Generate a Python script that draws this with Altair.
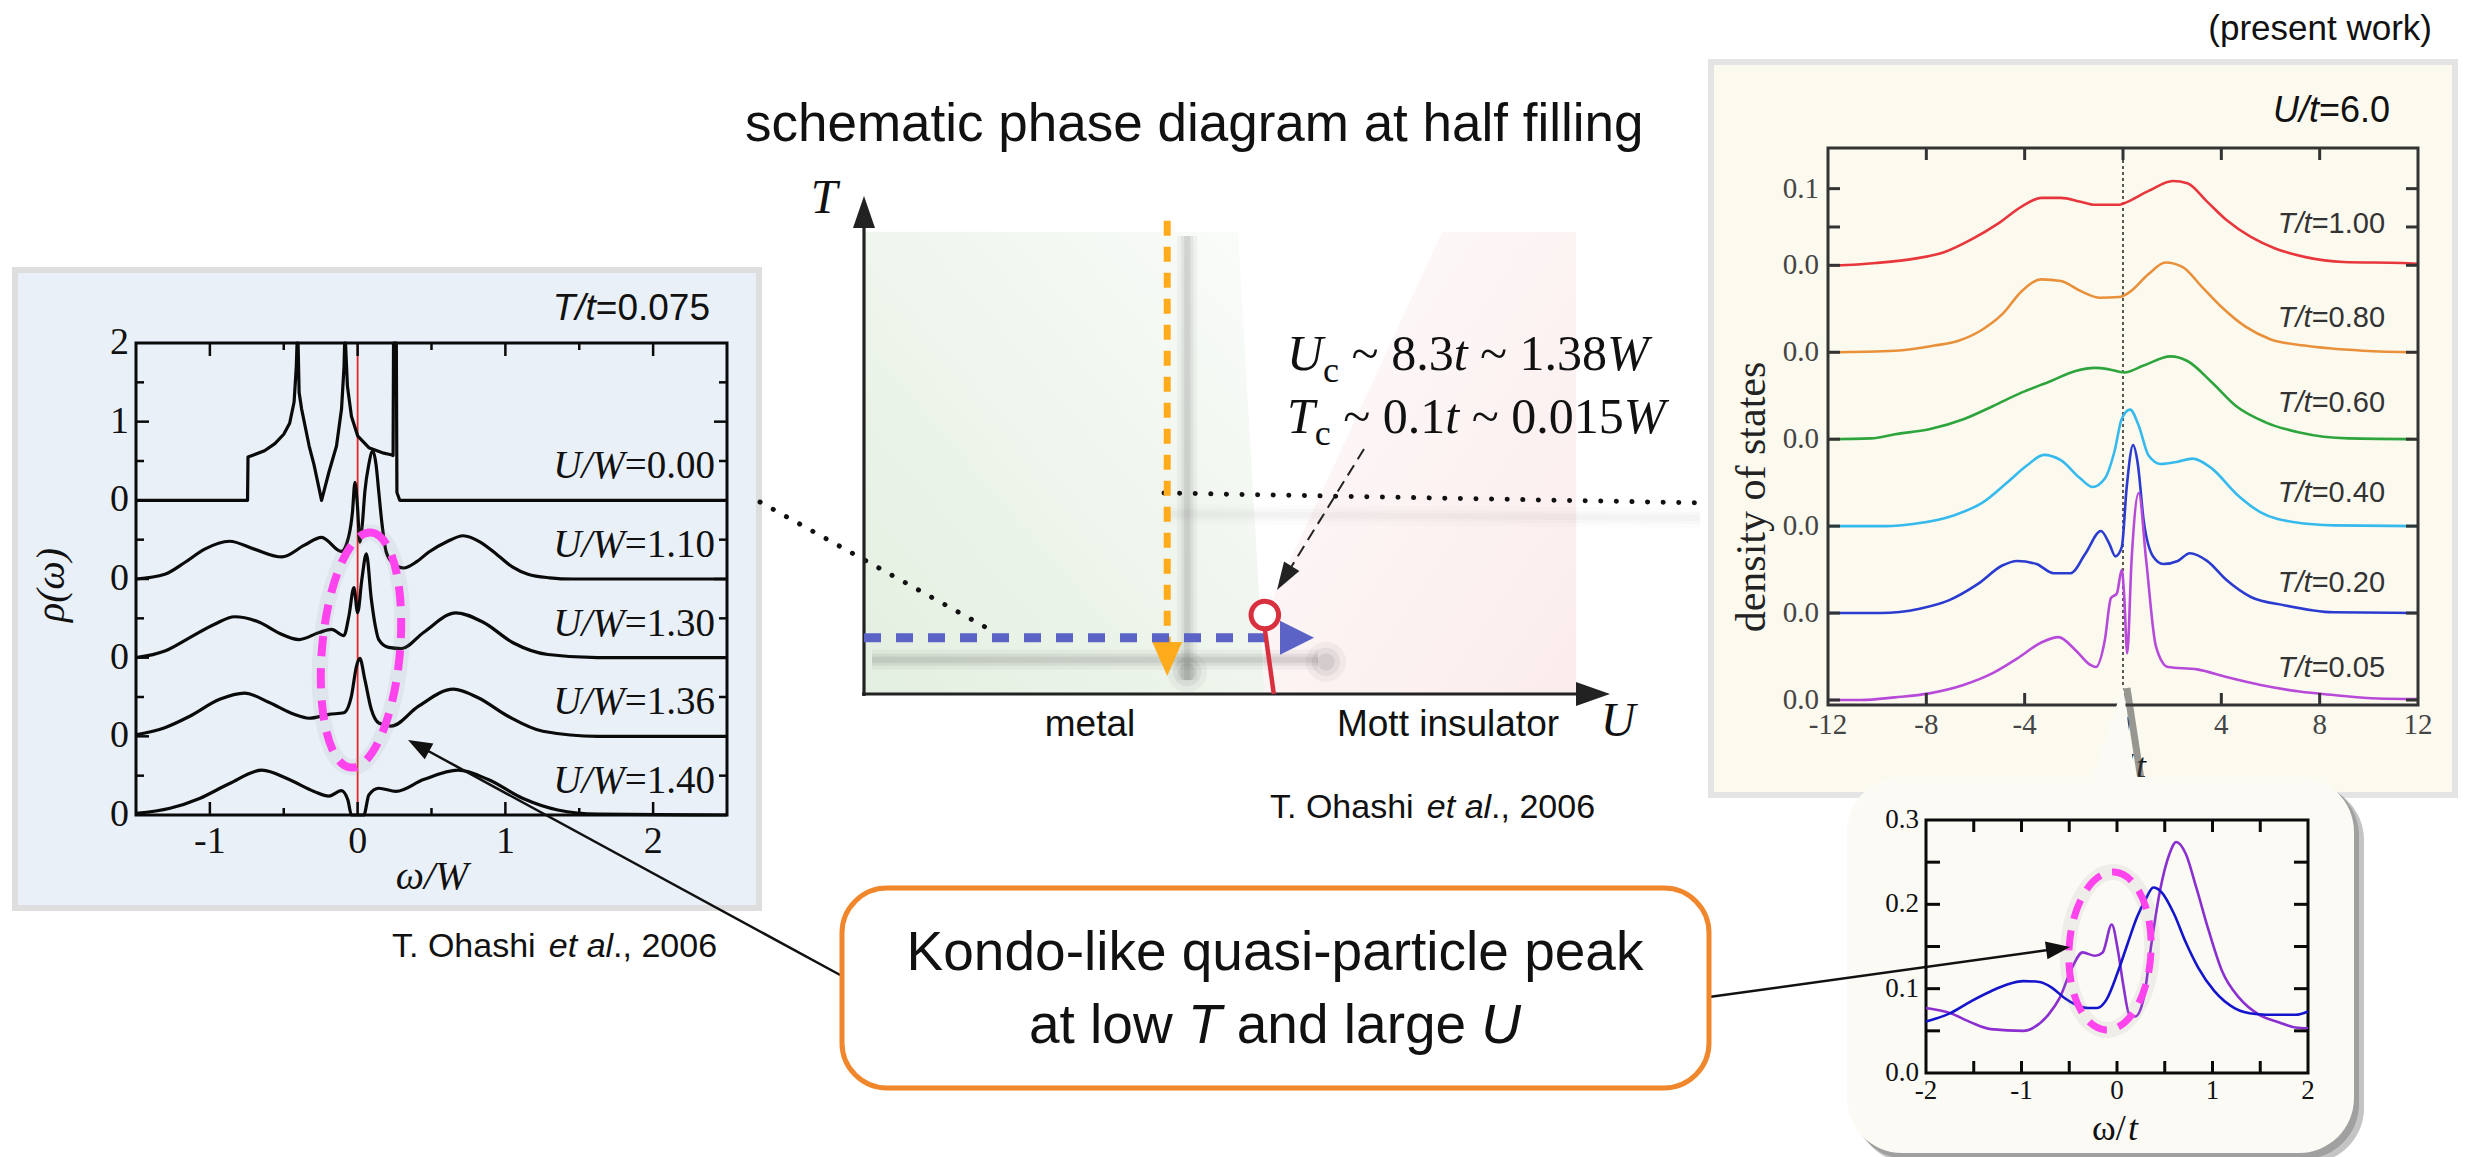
import math
import altair as alt
import pandas as pd

W, H = 2465, 1157
SERIF = "Liberation Serif"
SANS = "Liberation Sans"

# ===================== DATA =====================
# Left panel: rho(omega) vs omega/W at T/t = 0.075 (T. Ohashi et al., 2006)
left_names = ["0.00", "1.10", "1.30", "1.36", "1.40"]
u000_omega = [-1.5, -0.745, -0.742, -0.70, -0.63, -0.56, -0.50, -0.46, -0.43, -0.415,
              -0.41, -0.403, -0.396, -0.379, -0.328, -0.295, -0.244, -0.194, -0.143, -0.109,
              -0.092, -0.088, -0.082, -0.069, -0.042, 0.0, 0.076, 0.177, 0.227, 0.240,
              0.243, 0.262, 0.266, 0.285, 2.5]
u000_rho = [0.0, 0.0, 0.55, 0.58, 0.63, 0.72, 0.84, 0.98, 1.25, 1.70,
            2.0, 2.0, 1.37, 1.16, 0.69, 0.45, 0.0, 0.36, 0.69, 1.16,
            1.7, 2.0, 2.0, 1.45, 1.07, 0.82, 0.67, 0.60, 0.58, 0.57,
            2.0, 2.0, 0.10, 0.0, 0.0]
u110_omega = [-1.5, -1.305, -1.17, -1.035, -0.867, -0.70, -0.513, -0.36, -0.244, -0.11,
              -0.059, -0.035, -0.018, -0.002, 0.015, 0.032, 0.049, 0.075, 0.103, 0.125,
              0.143, 0.165, 0.194, 0.24, 0.311, 0.40, 0.48, 0.60, 0.715, 0.83,
              0.95, 1.05, 1.153, 1.30, 1.456, 2.5]
u110_rho = [0.0, 0.06, 0.21, 0.38, 0.48, 0.38, 0.28, 0.43, 0.53, 0.35,
            0.55, 0.85, 1.23, 0.95, 0.47, 0.70, 1.11, 1.45, 1.63, 1.45,
            1.11, 0.70, 0.34, 0.20, 0.14, 0.22, 0.34, 0.47, 0.55, 0.47,
            0.30, 0.15, 0.06, 0.015, 0.0, 0.0]
u130_omega = [-1.5, -1.305, -1.136, -0.968, -0.833, -0.665, -0.53, -0.396, -0.26, -0.177,
              -0.093, -0.059, -0.025, 0.0, 0.029, 0.059, 0.093, 0.12, 0.143, 0.21,
              0.295, 0.446, 0.665, 0.85, 1.052, 1.288, 1.625, 2.5]
u130_rho = [0.0, 0.085, 0.255, 0.425, 0.52, 0.45, 0.31, 0.23, 0.32, 0.36,
            0.28, 0.53, 0.89, 0.57, 1.0, 1.32, 0.74, 0.40, 0.23, 0.13,
            0.115, 0.32, 0.57, 0.45, 0.19, 0.04, 0.0, 0.0]
u136_omega = [-1.5, -1.305, -1.136, -0.934, -0.766, -0.598, -0.43, -0.33, -0.194, -0.093,
              -0.042, -0.008, 0.015, 0.049, 0.093, 0.143, 0.227, 0.41, 0.648, 0.816,
              1.018, 1.254, 1.625, 2.5]
u136_rho = [0.02, 0.11, 0.255, 0.47, 0.55, 0.43, 0.28, 0.23, 0.28, 0.30,
            0.51, 0.89, 0.99, 0.72, 0.34, 0.17, 0.13, 0.38, 0.60, 0.49,
            0.255, 0.064, 0.0, 0.0]
u140_omega = [-1.5, -1.27, -1.07, -0.867, -0.648, -0.463, -0.295, -0.194, -0.11, -0.066,
              -0.042, 0.0, 0.042, 0.076, 0.143, 0.26, 0.446, 0.682, 0.884, 1.12,
              1.355, 1.625, 2.5]
u140_rho = [0.02, 0.085, 0.21, 0.40, 0.57, 0.45, 0.30, 0.24, 0.31, 0.19,
            0.0, 0.0, 0.0, 0.255, 0.34, 0.30, 0.45, 0.57, 0.45, 0.21,
            0.064, 0.01, 0.0]
left_xtick_values = [-1, 0, 1, 2]
left_ytick_values = [0, 1, 2, 3, 4, 5, 6]
left_ytick_labels = ["0", "0", "0", "0", "0", "1", "2"]

# Right panel: density of states at U/t = 6.0 (present work)
right_names = ["1.00", "0.80", "0.60", "0.40", "0.20", "0.05"]
t100_omega = [-12, -11.45, -10.06, -8.47, -7.28, -6.09, -5.1, -4.11, -3.32, -2.53,
              -1.73, -1.14, -0.15, 0.05, 1.04, 2.03, 2.62, 3.42, 4.21, 5.2,
              6.19, 7.38, 8.97, 11.35, 12]
t100_dos = [0.0, 0.0, 0.003, 0.0087, 0.017, 0.035, 0.054, 0.077, 0.088, 0.088,
            0.083, 0.079, 0.079, 0.081, 0.097, 0.110, 0.107, 0.083, 0.059, 0.037,
            0.022, 0.011, 0.0043, 0.003, 0.002]
t080_omega = [-12, -9.27, -7.68, -6.69, -5.7, -4.9, -4.11, -3.32, -2.53, -1.73,
              -0.94, -0.15, 0.25, 1.04, 1.73, 2.43, 3.22, 4.01, 5.0, 5.99,
              7.38, 9.76, 12]
t080_dos = [0.0, 0.002, 0.0087, 0.015, 0.030, 0.050, 0.080, 0.095, 0.093, 0.080,
            0.071, 0.072, 0.078, 0.102, 0.117, 0.111, 0.085, 0.059, 0.033, 0.017,
            0.0087, 0.002, 0.0]
t060_omega = [-12, -10.25, -9.27, -7.88, -6.49, -5.3, -4.11, -2.92, -1.93, -1.14,
              -0.55, 0.05, 0.84, 1.93, 2.62, 3.62, 4.61, 5.8, 7.18, 9.17, 12]
t060_dos = [0.0, 0.001, 0.0065, 0.013, 0.026, 0.043, 0.061, 0.076, 0.089, 0.093,
            0.091, 0.087, 0.096, 0.108, 0.102, 0.074, 0.043, 0.022, 0.0087, 0.001, 0.0]
t040_omega = [-12, -9.66, -8.47, -6.89, -5.7, -4.71, -3.91, -3.22, -2.53, -1.73,
              -1.24, -0.74, -0.35, -0.05, 0.29, 0.64, 1.04, 1.54, 2.23, 2.82,
              3.62, 4.61, 5.6, 6.99, 8.57, 12]
t040_dos = [0.0, 0.0, 0.003, 0.014, 0.031, 0.057, 0.079, 0.093, 0.086, 0.062,
            0.051, 0.062, 0.097, 0.140, 0.152, 0.131, 0.092, 0.081, 0.084, 0.088,
            0.075, 0.042, 0.018, 0.005, 0.001, 0.0]
t020_omega = [-12, -9.86, -8.27, -7.09, -5.9, -4.91, -4.31, -3.52, -2.82, -2.13,
              -1.54, -0.9, -0.55, -0.31, -0.05, 0.15, 0.41, 0.6, 0.84, 1.24,
              1.63, 2.23, 2.72, 3.42, 4.21, 5.2, 6.59, 8.57, 12]
t020_dos = [0.0, 0.0, 0.0057, 0.0165, 0.038, 0.062, 0.068, 0.064, 0.052, 0.052,
            0.077, 0.107, 0.090, 0.074, 0.086, 0.164, 0.219, 0.195, 0.121, 0.073,
            0.064, 0.068, 0.078, 0.068, 0.043, 0.021, 0.010, 0.001, 0.0]
t005_omega = [-12, -10.65, -9.27, -7.88, -6.49, -5.3, -4.31, -3.32, -2.63, -1.93,
              -1.34, -1.1, -0.74, -0.49, -0.25, -0.05, 0.05, 0.17, 0.35, 0.64,
              0.94, 1.34, 1.83, 3.02, 4.21, 5.6, 7.18, 8.57, 10.35, 12]
t005_dos = [0.0, 0.0, 0.0035, 0.0087, 0.0196, 0.035, 0.054, 0.075, 0.082, 0.065,
            0.046, 0.043, 0.078, 0.133, 0.139, 0.170, 0.135, 0.061, 0.183, 0.270,
            0.183, 0.070, 0.043, 0.040, 0.030, 0.0196, 0.011, 0.0065, 0.002, 0.0013]
right_xtick_values = [-12, -8, -4, 0, 4, 8, 12]

# Inset: low-energy zoom, T/t = 0.05 (purple) and 0.20 (blue)
inset_p_omega = [-2.0, -1.745, -1.53, -1.32, -0.98, -0.87, -0.72, -0.6, -0.47, -0.36,
                 -0.23, -0.15, -0.055, 0.01, 0.065, 0.13, 0.19, 0.28, 0.36, 0.45,
                 0.55, 0.62, 0.72, 0.83, 0.96, 1.1, 1.28, 1.49, 1.70, 1.87, 2.0]
inset_p_dos = [0.077, 0.071, 0.060, 0.052, 0.050, 0.054, 0.069, 0.089, 0.125, 0.143,
               0.139, 0.143, 0.176, 0.145, 0.105, 0.069, 0.067, 0.089, 0.153, 0.216,
               0.260, 0.274, 0.260, 0.220, 0.169, 0.121, 0.089, 0.069, 0.060, 0.054, 0.053]
inset_b_omega = [-2.0, -1.745, -1.53, -1.32, -1.15, -0.98, -0.81, -0.68, -0.55, -0.43,
                 -0.3, -0.21, -0.11, 0.0, 0.11, 0.21, 0.3, 0.38, 0.47, 0.6,
                 0.72, 0.85, 1.02, 1.23, 1.45, 1.66, 1.87, 2.0]
inset_b_dos = [0.061, 0.071, 0.085, 0.097, 0.105, 0.109, 0.108, 0.101, 0.089, 0.081,
               0.077, 0.077, 0.087, 0.117, 0.153, 0.185, 0.206, 0.220, 0.214, 0.188,
               0.155, 0.125, 0.097, 0.077, 0.070, 0.069, 0.069, 0.073]
inset_xtick_values = [-2, -1, 0, 1, 2]
inset_ytick_values = [0.0, 0.1, 0.2, 0.3]

# Schematic phase diagram (arbitrary U, T units)
metal_u = [0.0, 0.502, 0.538]
metal_t = [0.93, 0.93, 0.0]
mott_u = [0.537, 0.538, 0.776, 0.956]
mott_t = [0.0, 0.159, 0.93, 0.93]
crit_u, crit_t = 0.538, 0.159
path_t_u = 0.407          # fixed-U path (orange)
path_u_t = 0.113          # fixed-T path (blue)

# ===================== LAYOUT / STYLE =====================
LEFT = dict(x=[-1.5, 2.5], px=[136, 727], y=[0, 6], py=[815, 343])
RIGHT = dict(x=[-12, 12], px=[1828, 2418], y=[-0.0065, 0.72], py=[705, 148])
INSET = dict(x=[-2, 2], px=[1926, 2308], y=[0, 0.3], py=[1073, 820])
MID = dict(x=[0, 1], px=[864, 1609], y=[0, 1], py=[694, 197])
left_offsets = [4, 3, 2, 1, 0]
right_offsets = [0.567, 0.4536, 0.3402, 0.2268, 0.1134, 0.0]
right_label_lift = [0.042, 0.033, 0.035, 0.031, 0.028, 0.030]
right_colors = ["#e8373c", "#e8903a", "#2ea43c", "#36b9ec", "#2b3bcf", "#b84ad9"]
inset_colors = {"p": "#8b2fd0", "b": "#1414cc"}

ONE = pd.DataFrame({"k": [0]})

_lc = "abcdefghijklmnopqrstuvwxyz"
_uc = "ABCDEFGHIJKLMNOPQRSTUVWXYZ"
SANS_W = dict(zip(_lc, [556, 556, 500, 556, 556, 278, 556, 556, 222, 222, 500, 222, 833,
                        556, 556, 556, 556, 333, 500, 278, 556, 500, 722, 500, 500, 500]))
SANS_W.update(zip(_uc, [667, 667, 722, 722, 667, 611, 778, 722, 278, 500, 667, 556, 833,
                        722, 778, 667, 778, 722, 667, 611, 722, 667, 944, 667, 667, 611]))
SANS_W.update({c: 556 for c in "0123456789"})
SANS_W.update({" ": 278, ".": 278, ",": 278, "-": 333, "/": 278, "=": 584, "~": 584,
               "(": 333, ")": 333})
SERIF_W = dict(zip(_lc, [444, 500, 444, 500, 444, 333, 500, 500, 278, 278, 500, 278, 778,
                         500, 500, 500, 500, 333, 389, 278, 500, 500, 722, 500, 500, 444]))
SERIF_W.update(zip(_uc, [722, 667, 667, 722, 611, 556, 722, 722, 333, 389, 722, 611, 889,
                         722, 722, 556, 722, 667, 556, 611, 722, 722, 944, 722, 722, 611]))
SERIF_W.update({c: 500 for c in "0123456789"})
SERIF_W.update({" ": 250, ".": 250, ",": 250, "-": 333, "/": 300, "=": 564, "~": 541,
                "(": 333, ")": 333, "\u03c9": 700, "\u03c1": 500})
SERIF_IW = dict(SERIF_W)
SERIF_IW.update({"T": 556, "U": 722, "W": 833, "t": 278, "/": 278})


def text_width(s, font, italic, size):
    if font == SANS:
        tab = SANS_W
    else:
        tab = SERIF_IW if italic else SERIF_W
    return sum(tab.get(ch, 500) for ch in s) * size / 1000.0


def text(x, y, s, size, font=SANS, italic=False, align="left", baseline="alphabetic",
         color="#111111", angle=None):
    kw = dict(text=s, font=font, fontSize=size, align=align, baseline=baseline, color=color)
    if italic:
        kw["fontStyle"] = "italic"
    if angle is not None:
        kw["angle"] = angle
    return alt.Chart(ONE).mark_text(**kw).encode(x=alt.value(x), y=alt.value(y))


def rich(x, y, segs, size, font=SANS, anchor="left", color="#111111"):
    """Mixed roman/italic text laid out segment by segment (spaces measured, not drawn)."""
    ws = [text_width(s, font, it, size * sc) for (s, it, sc, dy) in segs]
    tot = sum(ws)
    x0 = x if anchor == "left" else (x - tot / 2 if anchor == "center" else x - tot)
    out = []
    for (s, it, sc, dy), w in zip(segs, ws):
        core = s.strip(" ")
        lead = len(s) - len(s.lstrip(" "))
        if core:
            xs = x0 + text_width(" " * lead, font, it, size * sc)
            out.append(text(xs, y + dy, core, size * sc, font, it, "left", "alphabetic", color))
        x0 += w
    return out


def seg(x1, y1, x2, y2, color="#111111", width=2.0, dash=None, cap=None, opacity=1.0):
    kw = dict(color=color, strokeWidth=width, opacity=opacity)
    if dash:
        kw["strokeDash"] = dash
    if cap:
        kw["strokeCap"] = cap
    return alt.Chart(ONE).mark_rule(**kw).encode(
        x=alt.value(x1), y=alt.value(y1), x2=alt.value(x2), y2=alt.value(y2))


def rect(x1, y1, x2, y2, fill="transparent", stroke=None, width=0, radius=0, opacity=1.0):
    kw = dict(fill=fill, opacity=opacity, cornerRadius=radius)
    if stroke:
        kw.update(stroke=stroke, strokeWidth=width)
    return alt.Chart(ONE).mark_rect(**kw).encode(
        x=alt.value(x1), x2=alt.value(x2), y=alt.value(y1), y2=alt.value(y2))


def blob(x, y, size, opacity):
    return alt.Chart(ONE).mark_point(shape="circle", size=size, filled=True, color="#333333",
                                     opacity=opacity, strokeWidth=0).encode(
        x=alt.value(x), y=alt.value(y))


def arrowhead(tx, ty, dx, dy, length, width, color):
    ang = math.degrees(math.atan2(dx, -dy)) % 360
    a = width / length
    path = f"M 0 0 L {a:.3f} 2 L {-a:.3f} 2 Z"
    return alt.Chart(ONE).mark_point(shape=path, size=length * length, filled=True,
                                     color=color, opacity=1, angle=ang, strokeWidth=0).encode(
        x=alt.value(tx), y=alt.value(ty))


def arrow(x1, y1, tx, ty, color, width, head_len, head_w, dash=None):
    d = math.hypot(tx - x1, ty - y1)
    ux, uy = (tx - x1) / d, (ty - y1) / d
    ex, ey = tx - ux * head_len * 0.85, ty - uy * head_len * 0.85
    return [seg(x1, y1, ex, ey, color, width, dash),
            arrowhead(tx, ty, ux, uy, head_len, head_w, color)]


def ellipse(cx, cy, rx, ry, angle, color, width, dash=None, opacity=1.0):
    a, k = rx / ry, 0.5523
    p = (f"M 0 -1 C {k*a:.4f} -1 {a:.4f} {-k:.4f} {a:.4f} 0 "
         f"C {a:.4f} {k:.4f} {k*a:.4f} 1 0 1 "
         f"C {-k*a:.4f} 1 {-a:.4f} {k:.4f} {-a:.4f} 0 "
         f"C {-a:.4f} {-k:.4f} {-k*a:.4f} -1 0 -1 Z")
    kw = dict(shape=p, size=(2 * ry) ** 2, filled=False, fill="transparent", color=color,
              stroke=color, strokeWidth=width, opacity=opacity, angle=angle % 360)
    if dash:
        kw["strokeDash"] = dash
    return alt.Chart(ONE).mark_point(**kw).encode(x=alt.value(cx), y=alt.value(cy))


class Panel:
    def __init__(self, g):
        self.g = g
        self.xs = alt.Scale(domain=g["x"], range=g["px"], nice=False, zero=False)
        self.ys = alt.Scale(domain=g["y"], range=g["py"], nice=False, zero=False)

    def X(self, f="x"):
        return alt.X(f, type="quantitative", scale=self.xs, axis=None)

    def Y(self, f="y"):
        return alt.Y(f, type="quantitative", scale=self.ys, axis=None)

    def px(self, v):
        (d0, d1), (r0, r1) = self.g["x"], self.g["px"]
        return r0 + (v - d0) / (d1 - d0) * (r1 - r0)

    def py(self, v):
        (d0, d1), (r0, r1) = self.g["y"], self.g["py"]
        return r0 + (v - d0) / (d1 - d0) * (r1 - r0)

    def curve(self, xs, ys, color, width, interp="monotone"):
        df = pd.DataFrame({"x": xs, "y": ys, "i": list(range(len(xs)))})
        return alt.Chart(df).mark_line(color=color, strokeWidth=width, interpolate=interp,
                                       strokeJoin="round").encode(
            x=self.X(), y=self.Y(), order=alt.Order("i", type="quantitative"))

    def area(self, xs, ys, fill, base=0.0):
        df = pd.DataFrame({"x": xs, "y": ys, "b": [base] * len(xs)})
        return alt.Chart(df).mark_area(color=fill, opacity=1, interpolate="linear").encode(
            x=self.X(), y=self.Y(), y2=alt.Y2("b"))

    def frame(self, color, width):
        (x0, x1), (y0, y1) = self.g["x"], self.g["y"]
        df = pd.DataFrame({"x": [x0], "x2": [x1], "y": [y0], "y2": [y1]})
        return alt.Chart(df).mark_rect(fill="transparent", stroke=color, strokeWidth=width).encode(
            x=self.X(), x2=alt.X2("x2"), y=self.Y(), y2=alt.Y2("y2"))

    def xticks(self, vals, length, color, width):
        yb, yt = self.g["py"]
        df = pd.DataFrame({"x": vals})
        return [alt.Chart(df).mark_rule(color=color, strokeWidth=width).encode(
                    x=self.X(), y=alt.value(yb), y2=alt.value(yb - length)),
                alt.Chart(df).mark_rule(color=color, strokeWidth=width).encode(
                    x=self.X(), y=alt.value(yt), y2=alt.value(yt + length))]

    def yticks(self, vals, length, color, width):
        xl, xr = self.g["px"]
        df = pd.DataFrame({"y": vals})
        return [alt.Chart(df).mark_rule(color=color, strokeWidth=width).encode(
                    y=self.Y(), x=alt.value(xl), x2=alt.value(xl + length)),
                alt.Chart(df).mark_rule(color=color, strokeWidth=width).encode(
                    y=self.Y(), x=alt.value(xr), x2=alt.value(xr - length))]

    def xlabels(self, vals, texts, ybase, size, font=SERIF, color="#111111"):
        df = pd.DataFrame({"x": vals, "t": texts})
        return alt.Chart(df).mark_text(font=font, fontSize=size, align="center",
                                       baseline="alphabetic", color=color).encode(
            x=self.X(), y=alt.value(ybase), text="t:N")

    def ylabels(self, vals, texts, xright, size, font=SERIF, color="#111111"):
        df = pd.DataFrame({"y": vals, "t": texts})
        return alt.Chart(df).mark_text(font=font, fontSize=size, align="right",
                                       baseline="middle", color=color).encode(
            y=self.Y(), x=alt.value(xright), text="t:N")


layers = []
L_, R_, I_, M_ = Panel(LEFT), Panel(RIGHT), Panel(INSET), Panel(MID)
PIX = Panel(dict(x=[0, W], px=[0, W], y=[0, H], py=[0, H]))

# ---------- panel backgrounds ----------
layers.append(rect(15, 270, 759, 908, fill="#e9f0f8", stroke="#dedede", width=6))
layers.append(rect(1711, 62, 2455, 795, fill="#fcfaef", stroke="#e4e4e4", width=6))

# ---------- schematic phase diagram ----------
green_grad = {"gradient": "linear", "x1": 0, "y1": 1, "x2": 1, "y2": 0,
              "stops": [{"offset": 0, "color": "#e3efe0"}, {"offset": 1, "color": "#fafcfa"}]}
pink_grad = {"gradient": "linear", "x1": 1, "y1": 1, "x2": 0, "y2": 0,
             "stops": [{"offset": 0, "color": "#fbecec"}, {"offset": 1, "color": "#fefbfb"}]}
layers.append(M_.area(metal_u, metal_t, green_grad))
layers.append(M_.area(mott_u, mott_t, pink_grad))

ox = M_.px(path_t_u)
by = M_.py(path_u_t)
# soft shadows
for w_, o_ in [(20, 0.05), (12, 0.07), (6, 0.09)]:
    layers.append(seg(ox + 20, 236, ox + 20, 680, "#333333", w_, opacity=o_))
    layers.append(seg(872, by + 22, 1318, by + 22, "#333333", w_, opacity=o_))
    layers.append(seg(1164, 514, 1700, 518, "#666666", w_, opacity=o_ * 0.4))
for s_, o_ in [(1600, 0.05), (800, 0.07), (300, 0.09)]:
    layers.append(blob(1326, by + 24, s_, o_))
    layers.append(blob(ox + 20, 672, s_, o_))
# dotted connectors
layers.append(seg(760, 502, 987, 628, "#111111", 5, dash=[0.1, 15], cap="round"))
layers.append(seg(1164, 493, 1708, 503, "#111111", 5, dash=[0.1, 15.5], cap="round"))
# axes
layers.append(seg(864, 696, 864, 226, "#222222", 3.2))
layers.append(arrowhead(864, 196, 0, -1, 32, 22, "#222222"))
layers.append(seg(862, 694, 1578, 694, "#222222", 3.2))
layers.append(arrowhead(1610, 694, 1, 0, 34, 24, "#222222"))
# orange path (fixed U) and blue path (fixed T)
layers.append(seg(ox, M_.py(0.952), ox, 648, "#ffab1c", 7, dash=[15, 11]))
layers.append(arrowhead(ox, 676, 0, 1, 34, 30, "#ffab1c"))
layers.append(seg(864, by, 1284, by, "#5b63c6", 9, dash=[17, 15]))
layers.append(arrowhead(1314, by, 1, 0, 34, 34, "#5b63c6"))
# critical point
cx_, cy_ = M_.px(crit_u), M_.py(crit_t)
layers.append(seg(cx_, cy_ + 14, cx_ + 9, 694, "#d8303f", 4.5))
layers.append(alt.Chart(ONE).mark_point(shape="circle", size=760, filled=True, fill="white",
                                        stroke="#d8303f", strokeWidth=5, opacity=1).encode(
    x=alt.value(cx_), y=alt.value(cy_)))
layers += arrow(1364, 449, 1277, 590, "#222222", 2, 28, 18, dash=[12, 7])
# labels
layers.append(text(824, 213, "T", 48, SERIF, True, "center"))
layers.append(text(1618, 736, "U", 48, SERIF, True, "center"))
layers.append(text(1090, 736, "metal", 37, SANS, False, "center"))
layers.append(text(1448, 736, "Mott insulator", 37, SANS, False, "center"))
layers += rich(1287, 370, [("U", True, 1, 0), ("c", False, 0.72, 12), (" ~ 8.3", False, 1, 0),
                           ("t", True, 1, 0), (" ~ 1.38", False, 1, 0), ("W", True, 1, 0)],
               50, SERIF)
layers += rich(1287, 433, [("T", True, 1, 0), ("c", False, 0.72, 12), (" ~ 0.1", False, 1, 0),
                           ("t", True, 1, 0), (" ~ 0.015", False, 1, 0), ("W", True, 1, 0)],
               50, SERIF)
layers += rich(1270, 818, [("T. Ohashi ", False, 1, 0), ("et al", True, 1, 0),
                           ("., 2006", False, 1, 0)], 34, SANS)
layers.append(text(745, 141, "schematic phase diagram at half filling", 53, SANS))

# ---------- left panel ----------
layers.append(alt.Chart(pd.DataFrame({"x": [0.0]})).mark_rule(color="#e8262a", strokeWidth=1.8).encode(
    x=L_.X(), y=alt.value(343), y2=alt.value(815)))
left_curves = [(u000_omega, u000_rho, "linear"), (u110_omega, u110_rho, "monotone"),
               (u130_omega, u130_rho, "monotone"), (u136_omega, u136_rho, "monotone"),
               (u140_omega, u140_rho, "monotone")]
for (xs, ys, itp), off in zip(left_curves, left_offsets):
    layers.append(L_.curve(xs, [off + v for v in ys], "#0a0a0a", 3.2, itp))
layers.append(L_.frame("#0a0a0a", 3))
layers += L_.xticks([-1, 0, 1, 2], 13, "#0a0a0a", 2.5)
layers += L_.xticks([-0.5, 0.5, 1.5], 7, "#0a0a0a", 2.5)
layers += L_.yticks([1, 2, 3, 4, 5], 13, "#0a0a0a", 2.5)
layers += L_.yticks([0.5, 1.5, 2.5, 3.5, 4.5, 5.5], 8, "#0a0a0a", 2.5)
layers.append(L_.xlabels(left_xtick_values, [str(v) for v in left_xtick_values], 853, 38))
layers.append(L_.ylabels(left_ytick_values, left_ytick_labels, 129, 38))
layers.append(text(432, 889, "\u03c9/W", 40, SERIF, True, "center"))
layers.append(text(52, 585, "\u03c1(\u03c9)", 40, SERIF, True, "center", "middle", angle=270))
for name, off in zip(left_names, left_offsets):
    layers += rich(715, L_.py(off + 0.28), [("U/W", True, 1, 0), ("=" + name, False, 1, 0)],
                   39, SERIF, "right")
layers += rich(710, 320, [("T/t", True, 1, 0), ("=0.075", False, 1, 0)], 37, SANS, "right")
layers.append(ellipse(361, 650, 40, 118, 5, "#888888", 16, opacity=0.10))
layers.append(ellipse(361, 650, 39, 118, 5, "#ff44ee", 8, dash=[20, 12]))
layers += rich(392, 957, [("T. Ohashi ", False, 1, 0), ("et al", True, 1, 0),
                          ("., 2006", False, 1, 0)], 34, SANS)

# ---------- right panel ----------
layers.append(alt.Chart(pd.DataFrame({"x": [0.0]})).mark_rule(
    color="#222222", strokeWidth=1.5, strokeDash=[3, 3]).encode(
    x=R_.X(), y=alt.value(148), y2=alt.value(705)))
right_curves = [(t100_omega, t100_dos), (t080_omega, t080_dos), (t060_omega, t060_dos),
                (t040_omega, t040_dos), (t020_omega, t020_dos), (t005_omega, t005_dos)]
for (xs, ys), off, col in zip(right_curves, right_offsets, right_colors):
    layers.append(R_.curve(xs, [off + v for v in ys], col, 2.6))
layers.append(R_.frame("#333333", 3))
layers += R_.xticks([-8, -4, 0, 4, 8], 12, "#333333", 3)
layers += R_.yticks(right_offsets + [0.617, 0.667], 12, "#333333", 3)
layers.append(R_.xlabels(right_xtick_values, [str(v) for v in right_xtick_values], 734, 29,
                         color="#444444"))
layers.append(R_.ylabels(right_offsets + [0.667], ["0.0"] * 6 + ["0.1"], 1819, 29,
                         color="#444444"))
for name, off, lift in zip(right_names, right_offsets, right_label_lift):
    layers += rich(2385, R_.py(off + lift), [("T/t", True, 1, 0), ("=" + name, False, 1, 0)],
                   29, SANS, "right", "#333333")
layers += rich(2390, 122, [("U/t", True, 1, 0), ("=6.0", False, 1, 0)], 36, SANS, "right")
layers.append(text(1752, 497, "density of states", 42, SERIF, False, "center", "middle",
                   "#222222", angle=270))
layers += rich(2123, 778, [("\u03c9/", False, 1, 0), ("t", True, 1, 0)], 36, SERIF, "center")
layers.append(text(2432, 40, "(present work)", 35, SANS, False, "right"))

# ---------- inset callout ----------
layers.append(rect(1856, 785, 2364, 1163, fill="#555555", radius=55, opacity=0.35))
layers.append(rect(1852, 781, 2359, 1159, fill="#333333", radius=55, opacity=0.25))
layers.append(seg(2127, 688, 2142, 786, "#444444", 7, opacity=0.55))
layers.append(rect(1847, 777, 2354, 1153, fill="#fbfaf4", radius=55))
layers.append(PIX.area([2088, 2123, 2137], [792, 686, 792], "#fbfaf4", base=792))
layers.append(I_.frame("#0a0a0a", 3))
layers.append(I_.curve(inset_p_omega, inset_p_dos, inset_colors["p"], 2.6))
layers.append(I_.curve(inset_b_omega, inset_b_dos, inset_colors["b"], 2.6))
layers += I_.xticks([-1.5, -1.0, -0.5, 0.0, 0.5, 1.0, 1.5], 12, "#0a0a0a", 3)
layers += I_.yticks([0.05, 0.1, 0.15, 0.2, 0.25], 14, "#0a0a0a", 3)
layers.append(I_.xlabels(inset_xtick_values, [str(v) for v in inset_xtick_values], 1099, 27))
layers.append(I_.ylabels(inset_ytick_values, [f"{v:.1f}" for v in inset_ytick_values], 1919, 27))
layers += rich(2115, 1140, [("\u03c9/", False, 1, 0), ("t", True, 1, 0)], 36, SERIF, "center")
layers.append(ellipse(2110, 951, 42, 79, 3, "#888888", 16, opacity=0.10))
layers.append(ellipse(2110, 951, 41, 79, 3, "#ff44ee", 7, dash=[20, 12]))

# ---------- Kondo annotation ----------
layers += arrow(842, 976, 408, 740, "#111111", 2.5, 24, 18)
layers += arrow(1709, 997, 2070, 947, "#111111", 2.5, 24, 18)
layers.append(rect(842, 888, 1709, 1088, fill="white", stroke="#f0872c", width=5, radius=45))
layers.append(text(1275, 970, "Kondo-like quasi-particle peak", 55, SANS, False, "center"))
layers += rich(1275, 1043, [("at low ", False, 1, 0), ("T", True, 1, 0),
                            (" and large ", False, 1, 0), ("U", True, 1, 0)], 55, SANS, "center")

chart = alt.layer(*layers).resolve_scale(x="independent", y="independent").properties(
    width=W, height=H, padding=0, background="white",
    autosize=alt.AutoSizeParams(type="none")
).configure_view(stroke=None)

chart.save("out.html", embed_options={"renderer": "svg", "actions": False})
